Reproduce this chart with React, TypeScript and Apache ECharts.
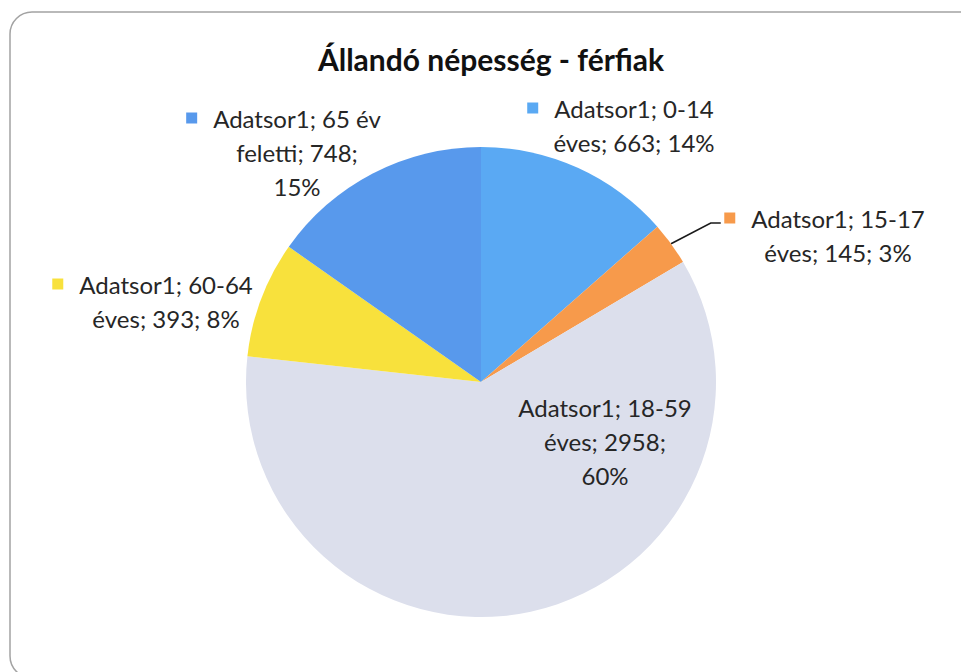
import React, { useEffect, useRef } from "react";
import * as echarts from "echarts";

const titleText = "Állandó népesség - férfiak";
const seriesName = "Adatsor1";
const categories = ["0-14 éves", "15-17 éves", "18-59 éves", "60-64 éves", "65 év feletti"];
const values = [663, 145, 2958, 393, 748];
const colors = ["#5aa9f3", "#f79a4b", "#dcdfec", "#f8e13c", "#5899ec"];
// word index after which a line break is placed (label wrapping, style only)
const lineBreaks = [[1], [1], [1, 3], [1], [2, 4]];
// label block centres (layout only)
const labelCenters = [
  [634, 125],
  [838, 235],
  [605, 441],
  [166, 301],
  [297, 152],
];

const FONT = "Lato, 'Open Sans', sans-serif";

export default function App() {
  const ref = useRef<HTMLDivElement>(null);

  useEffect(() => {
    if (!ref.current) return;
    const chart = echarts.init(ref.current, undefined, { renderer: "svg" });

    const rich: Record<string, any> = {
      t: { fontSize: 24, lineHeight: 34, color: "#262626", fontFamily: FONT },
      gap: { width: 16, height: 11 },
      pad: { width: 27, height: 11 },
    };
    colors.forEach((c, i) => {
      rich["m" + i] = { width: 11, height: 11, backgroundColor: c };
    });

    const total = values.reduce((a, b) => a + b, 0);

    const data = categories.map((name, i) => ({
      name,
      value: values[i],
      itemStyle: { color: colors[i] },
      label: i === 2 ? { position: "inside" } : { position: "outside" },
      labelLine: i === 1
        ? { show: true, length: 10, length2: 10, lineStyle: { color: "#1a1a1a", width: 1.6 } }
        : { show: false },
    }));

    chart.setOption({
      animation: false,
      backgroundColor: "#ffffff",
      title: {
        text: titleText,
        left: 486,
        top: 39,
        textAlign: "center",
        textStyle: { fontSize: 30, fontWeight: "bold", color: "#111", fontFamily: FONT },
      },
      graphic: [
        {
          type: "rect",
          silent: true,
          shape: { x: 10, y: 12, width: 972, height: 666, r: 22 },
          style: { fill: "none", stroke: "#a3a3a3", lineWidth: 1.5 },
        },
      ],
      series: [
        {
          type: "pie",
          name: seriesName,
          center: [481, 382],
          radius: 235,
          startAngle: 90,
          clockwise: true,
          avoidLabelOverlap: false,
          itemStyle: { borderWidth: 0 },
          label: {
            show: true,
            align: "center",
            formatter: (p: any) => {
              const pct = Math.round((p.value / total) * 100);
              const words = `${p.seriesName}; ${p.name}; ${p.value}; ${pct}%`.split(" ");
              const brk = lineBreaks[p.dataIndex];
              const lines: string[] = [];
              let cur: string[] = [];
              words.forEach((w, wi) => {
                cur.push(w);
                if (brk.includes(wi)) {
                  lines.push(cur.join(" "));
                  cur = [];
                }
              });
              if (cur.length) lines.push(cur.join(" "));
              return lines
                .map((l, li) =>
                  li === 0
                    ? `{m${p.dataIndex}|}{gap|}{t|${l}}{pad|}`
                    : `{t|${l}}`
                )
                .join("\n");
            },
            rich,
          },
          labelLayout: (params: any) => {
            const c = labelCenters[params.dataIndex];
            const out: any = { x: c[0], y: c[1], align: "center", verticalAlign: "middle" };
            if (params.dataIndex === 1 && params.labelLinePoints && params.labelRect) {
              const start = params.labelLinePoints[0];
              const left = c[0] - params.labelRect.width / 2;
              const top = c[1] - params.labelRect.height / 2;
              const yLine = top + 17;
              out.labelLinePoints = [
                start,
                [left - 27, yLine],
                [left - 17, yLine],
              ];
            }
            return out;
          },
          data,
        },
      ],
    });

    return () => chart.dispose();
  }, []);

  return (
    <div
      ref={ref}
      style={{ position: "fixed", left: 0, top: 0, width: 961, height: 672, background: "#fff" }}
    />
  );
}
